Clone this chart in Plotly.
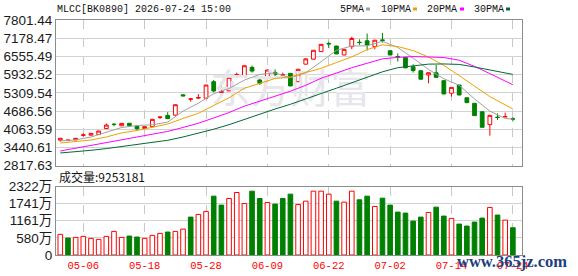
import plotly.graph_objects as go

# ---------------- data ----------------
dates = ["04-28", "04-29", "04-30", "05-06", "05-07", "05-08", "05-11", "05-12", "05-13", "05-14",
         "05-15", "05-18", "05-19", "05-20", "05-21", "05-22", "05-25", "05-26", "05-27", "05-28",
         "05-29", "06-01", "06-02", "06-03", "06-04", "06-05", "06-08", "06-09", "06-10", "06-11",
         "06-12", "06-15", "06-16", "06-17", "06-18", "06-22", "06-23", "06-24", "06-25", "06-26",
         "06-29", "06-30", "07-01", "07-02", "07-03", "07-06", "07-07", "07-08", "07-09", "07-10",
         "07-13", "07-14", "07-15", "07-16", "07-17", "07-20", "07-21", "07-22", "07-23", "07-24"]

opens = [3690, 3675, 3700, 3855, 3860, 3880, 4085, 4235, 4180, 4265,
         4160, 4085, 4150, 4470, 4535, 4545, 5240, 5090, 5130, 5125,
         5690, 5315, 5375, 5910, 5865, 6180, 5748, 5810, 6010, 5915,
         5975, 5690, 6290, 6460, 6720, 6995, 6910, 6605, 6890, 7040,
         7090, 6890, 7120, 6750, 6550, 6520, 6200, 6065, 5920, 5995,
         5725, 5295, 5575, 5140, 4950, 4660, 4220, 4475, 4485, 4420]
highs = [3765, 3700, 3760, 3920, 3935, 4010, 4260, 4270, 4275, 4280,
         4190, 4160, 4410, 4490, 4645, 4910, 5250, 5125, 5265, 5585,
         5750, 5690, 5850, 6000, 6245, 6240, 5840, 6100, 6110, 6000,
         5985, 6125, 6500, 6775, 6980, 7060, 6920, 6810, 7230, 7140,
         7340, 7120, 7360, 6760, 6660, 6530, 6285, 6075, 6005, 6260,
         5735, 5505, 5585, 5150, 4960, 4670, 4548, 4605, 4630, 4470]
lows = [3640, 3665, 3690, 3810, 3850, 3870, 4075, 4160, 4170, 4175,
        4030, 4075, 4140, 4410, 4415, 4535, 5190, 5005, 5100, 5115,
        5330, 5305, 5365, 5840, 5855, 6000, 5580, 5800, 5860, 5850,
        5535, 5680, 6280, 6450, 6710, 6840, 6630, 6595, 6800, 6950,
        6760, 6800, 7030, 6595, 6380, 6150, 6000, 5765, 5635, 5830,
        5260, 5176, 5225, 4960, 4518, 4120, 3841, 4380, 4480, 4330]
closes = [3752, 3690, 3750, 3868, 3920, 4000, 4205, 4225, 4262, 4185,
          4080, 4150, 4400, 4480, 4425, 4900, 5205, 5100, 5145, 5575,
          5372, 5350, 5840, 5925, 6235, 6055, 5635, 6090, 5935, 5925,
          5545, 6115, 6470, 6765, 6968, 6985, 6640, 6798, 7170, 7030,
          6946, 7110, 7105, 6605, 6540, 6165, 6070, 5775, 5998, 5840,
          5270, 5495, 5235, 4972, 4528, 4130, 4538, 4465, 4495, 4410]
prev_close = 3700  # close of the day before the first bar

# volume in 万
volumes = [699, 575, 597, 631, 564, 530, 631, 800, 597, 642,
           609, 564, 665, 733, 778, 800, 879, 1285, 1375, 1477,
           1995, 1691, 1916, 2119, 1747, 2164, 1916, 1781, 1725, 1916,
           2063, 1713, 1826, 2164, 2164, 2063, 1826, 1792, 2164, 1871,
           1995, 1646, 1927, 1691, 1454, 1420, 1150, 1285, 1443, 1623,
           1319, 1240, 1048, 981, 1116, 1251, 1612, 1353, 1184, 925]

# moving averages read at sample bars
ma_idx = list(range(0, 60, 2)) + [59]
ma5 = [3660, 3700, 3796, 3949, 4122, 4191, 4215, 4307, 4682, 4955, 5279, 5456, 5744, 5938, 5990,
       5826, 5998, 6373, 6766, 6912, 6917, 7072, 6861, 6497, 6110, 5791, 5568, 5100, 4681, 4431, 4408]
ma10 = [3590, 3642, 3694, 3797, 3937, 4018, 4130, 4241, 4431, 4607, 4875, 5139, 5465, 5623, 5801,
        5854, 5993, 6150, 6344, 6538, 6789, 6952, 6893, 6754, 6534, 6248, 5899, 5535, 5178, 4897, 4754]
ma20 = [3317, 3413, 3509, 3605, 3701, 3797, 3892, 3988, 4122, 4269, 4447, 4634, 4853, 5027, 5204,
        5364, 5566, 5808, 5984, 6170, 6321, 6472, 6522, 6549, 6536, 6518, 6426, 6214, 5966, 5716, 5585]
ma30 = [3249, 3290, 3341, 3400, 3468, 3536, 3605, 3684, 3797, 3920, 4064, 4218, 4402, 4574, 4755,
        4916, 5087, 5285, 5466, 5649, 5839, 6028, 6169, 6240, 6291, 6297, 6281, 6193, 6092, 5990, 5939]

price_ticks = [2817.63, 3440.61, 4063.59, 4686.56, 5309.54, 5932.52, 6555.49, 7178.47, 7801.44]
vol_ticks = [0, 580, 1161, 1741, 2322]
vol_tick_text = ["0", "580万", "1161万", "1741万", "2322万"]
date_ticks = ["05-06", "05-18", "05-28", "06-09", "06-22", "07-02", "07-14", "07-24"]
title_text = "MLCC[BK0890] 2026-07-24 15:00"
vol_title = "成交量:9253181"
legend_names = ["5PMA", "10PMA", "20PMA", "30PMA"]

# ---------------- style ----------------
RED = "#ff0000"
GREEN = "#008000"
MA_COLORS = ["#a0a0a0", "#f0a000", "#ff00ff", "#006b33"]
W, H = 578, 276
L, R = 56, 56
PW = W - L - R

def py(p):  # pixel row -> paper y
    return 1 - p / H

def px(p):  # pixel col -> paper x
    return (p - L) / PW

fig = go.Figure()

# watermark, drawn beneath the data
fig.add_trace(go.Scatter(x=[dates[30]], y=[5300], mode="text", text=["东方财富"],
                         textfont=dict(family="Noto Sans CJK SC", size=40, color="#e6e6ec"),
                         hoverinfo="skip", showlegend=False, xaxis="x", yaxis="y"))

fig.add_trace(go.Candlestick(
    x=dates, open=opens, high=highs, low=lows, close=closes,
    increasing=dict(line=dict(color=RED, width=1), fillcolor="#ffffff"),
    decreasing=dict(line=dict(color=GREEN, width=1), fillcolor=GREEN),
    whiskerwidth=0, showlegend=False, hoverinfo="skip", xaxis="x", yaxis="y"))

for vals, col, name in zip([ma5, ma10, ma20, ma30], MA_COLORS, legend_names):
    fig.add_trace(go.Scatter(x=[dates[i] for i in ma_idx], y=vals, mode="lines",
                             line=dict(color=col, width=1), name=name,
                             hoverinfo="skip", showlegend=False, xaxis="x", yaxis="y"))

prevs = [prev_close] + closes[:-1]
up = [c >= p for c, p in zip(closes, prevs)]
fig.add_trace(go.Bar(x=dates, y=volumes, width=0.6,
                     marker=dict(color=["#ffffff" if u else GREEN for u in up],
                                 line=dict(color=[RED if u else GREEN for u in up], width=1)),
                     hoverinfo="skip", showlegend=False, xaxis="x2", yaxis="y2"))

axis_font = dict(family="Liberation Sans, Arial, Noto Sans CJK SC", size=13.5, color="#1a1a1a")
xcommon = dict(type="category", categoryorder="array", categoryarray=dates,
               range=[-0.56, 60.19], showgrid=True, gridcolor="#c8c8c8",
               griddash="dash", gridwidth=1, tickvals=date_ticks, ticktext=date_ticks,
               showline=True, linecolor="#8c8c8c", linewidth=1, mirror=True, ticks="",
               zeroline=False, automargin=False, fixedrange=True)
fig.update_layout(
    width=W, height=H, margin=dict(l=L, r=R, t=0, b=0),
    paper_bgcolor="#ffffff", plot_bgcolor="#ffffff", showlegend=False, bargap=0.4,
    xaxis=dict(**xcommon, anchor="y", showticklabels=False, rangeslider=dict(visible=False)),
    xaxis2=dict(**xcommon, anchor="y2", matches="x", showticklabels=True,
                tickfont=dict(family="Liberation Mono, DejaVu Sans Mono", size=10.5, color=RED)),
    yaxis=dict(domain=[py(165.6), py(20)], range=[2817.5, 7801.6], tickvals=price_ticks,
               ticktext=[f"{v:.2f}" for v in price_ticks], tickfont=axis_font,
               showgrid=True, gridcolor="#d2d2d2", gridwidth=1, showline=True, linecolor="#8c8c8c",
               mirror=True, ticks="", zeroline=False, automargin=False, fixedrange=True),
    yaxis2=dict(domain=[py(255), py(186.5)], range=[0, 2322.3], tickvals=vol_ticks,
                ticktext=vol_tick_text, tickfont=axis_font,
                showgrid=True, gridcolor="#d2d2d2", gridwidth=1, showline=True, linecolor="#8c8c8c",
                mirror=True, ticks="", zeroline=False, automargin=False, fixedrange=True),
)

mono = "Liberation Mono, DejaVu Sans Mono"
ann = [dict(x=px(55), y=py(9), xref="paper", yref="paper", text=title_text, showarrow=False,
            xanchor="left", yanchor="middle", font=dict(family=mono, size=10, color="#111111")),
       dict(x=px(57), y=py(176.5), xref="paper", yref="paper", text=vol_title, showarrow=False,
            xanchor="left", yanchor="middle",
            font=dict(family="Noto Sans CJK SC", size=12, color="#111111")),
       dict(x=px(455), y=py(261), xref="paper", yref="paper", text="<b>www.365jz.com</b>",
            showarrow=False, xanchor="left", yanchor="middle",
            font=dict(family="Liberation Serif", size=16.5, color="#1d3f80"))]
legend_text_x = [338, 379, 425, 472]
legend_mark_x = [366, 413, 460, 506]
shapes = []
for name, tx, mx, col in zip(legend_names, legend_text_x, legend_mark_x, MA_COLORS):
    ann.append(dict(x=px(tx), y=py(9), xref="paper", yref="paper", text=name, showarrow=False,
                    xanchor="left", yanchor="middle", font=dict(family=mono, size=10, color="#111111")))
    shapes.append(dict(type="rect", xref="paper", yref="paper", x0=px(mx), x1=px(mx + 4),
                       y0=py(10.5), y1=py(7.5), fillcolor=col, line=dict(width=0)))
fig.update_layout(annotations=ann, shapes=shapes)

fig.write_html("out.html")
